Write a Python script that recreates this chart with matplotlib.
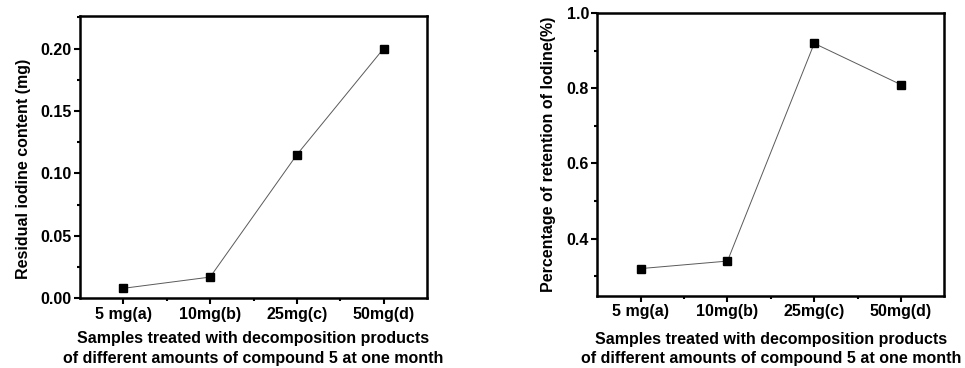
import matplotlib.pyplot as plt
import numpy as np
from matplotlib.ticker import MultipleLocator

plt.rcParams['font.family'] = ['Liberation Sans', 'DejaVu Sans']
plt.rcParams['font.weight'] = 'bold'

samples = ["5 mg(a)", "10mg(b)", "25mg(c)", "50mg(d)"]
residual_iodine = [0.008, 0.017, 0.115, 0.200]
retention_pct = [0.32, 0.34, 0.92, 0.81]

xlabel = ("Samples treated with decomposition products\n"
          "of different amounts of compound 5 at one month")


def style_axes(ax):
    for sp in ax.spines.values():
        sp.set_linewidth(1.8)
    ax.tick_params(which="major", direction="out", length=4, width=1.5,
                   labelsize=11.5, pad=2)
    ax.tick_params(which="minor", direction="out", length=2.5, width=1.5)
    ax.tick_params(axis="x", which="minor", bottom=True)
    ax.set_xlim(-0.5, 3.5)
    ax.set_xticks(np.arange(len(samples)))
    ax.set_xticks(np.arange(len(samples) - 1) + 0.5, minor=True)
    ax.set_xticklabels(samples, fontweight="bold")
    for lab in ax.get_yticklabels():
        lab.set_fontweight("bold")


fig = plt.figure(figsize=(9.65, 3.68), dpi=100)

ax1 = fig.add_axes([0.0829, 0.1894, 0.3596, 0.767])
x = np.arange(len(samples))
ax1.plot(x, residual_iodine, color="#5a5a5a", lw=0.7, marker="s", ms=6,
         mfc="black", mec="black")
ax1.set_ylim(0, 0.226)
ax1.yaxis.set_major_locator(MultipleLocator(0.05))
ax1.yaxis.set_minor_locator(MultipleLocator(0.025))
ax1.yaxis.set_major_formatter(plt.FormatStrFormatter("%.2f"))
style_axes(ax1)
ax1.set_ylabel("Residual iodine content (mg)", fontsize=11.5, fontweight="bold", labelpad=7)
ax1.yaxis.label.set_y(0.46)
ax1.set_xlabel(xlabel, fontsize=11.5, fontweight="bold", labelpad=7, linespacing=1.4)

ax2 = fig.add_axes([0.619, 0.1957, 0.3596, 0.768])
ax2.plot(x, retention_pct, color="#5a5a5a", lw=0.7, marker="s", ms=6,
         mfc="black", mec="black")
ax2.set_ylim(0.247, 1.0)
ax2.yaxis.set_major_locator(MultipleLocator(0.2))
ax2.yaxis.set_minor_locator(MultipleLocator(0.1))
ax2.yaxis.set_major_formatter(plt.FormatStrFormatter("%.1f"))
style_axes(ax2)
ax2.set_ylabel("Percentage of retention of Iodine(%)", fontsize=11.5, fontweight="bold", labelpad=8)
ax2.set_xlabel(xlabel, fontsize=11.5, fontweight="bold", labelpad=9, linespacing=1.35)

fig.savefig("out.png", dpi=100)
